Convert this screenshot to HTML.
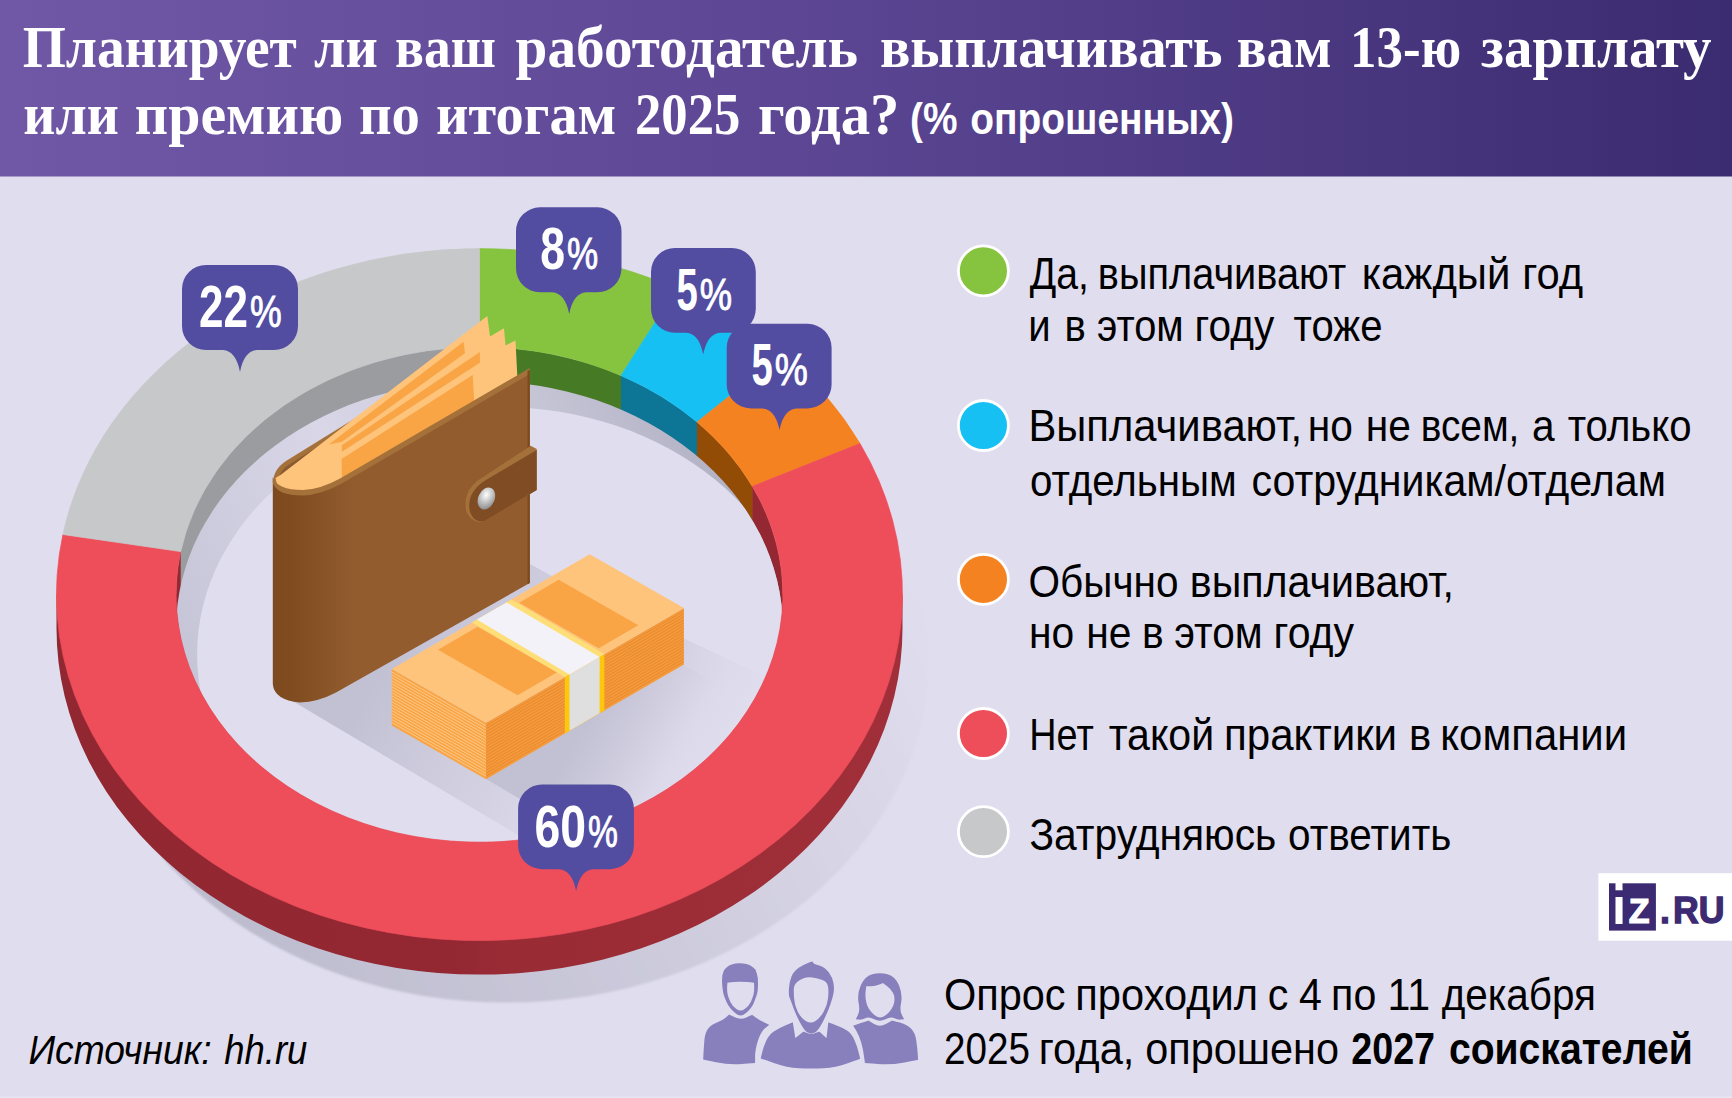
<!DOCTYPE html>
<html lang="ru"><head><meta charset="utf-8"><title>Инфографика</title>
<style>html,body{margin:0;padding:0;background:#e0ddee}svg{display:block}</style></head>
<body>
<svg width="1732" height="1098" viewBox="0 0 1732 1098">
<defs>
<linearGradient id="hdr" x1="0" x2="1" y1="0" y2="0"><stop offset="0" stop-color="#7058a6"/><stop offset="0.45" stop-color="#5d4795"/><stop offset="1" stop-color="#3b2b70"/></linearGradient>
<linearGradient id="wal" x1="0" x2="1" y1="0" y2="0"><stop offset="0" stop-color="#7d491e"/><stop offset="0.07" stop-color="#7f4b1f"/><stop offset="0.32" stop-color="#925c2f"/><stop offset="1" stop-color="#925c2f"/></linearGradient>
<linearGradient id="gsh" gradientUnits="userSpaceOnUse" x1="250" y1="980" x2="930" y2="620"><stop offset="0" stop-color="#bdbcce"/><stop offset="0.5" stop-color="#cdcbdc"/><stop offset="1" stop-color="#e0ddee"/></linearGradient>
<linearGradient id="wsh" gradientUnits="userSpaceOnUse" x1="400" y1="640" x2="660" y2="790"><stop offset="0" stop-color="#c2c1d3"/><stop offset="0.5" stop-color="#cdcbdc" stop-opacity="0.7"/><stop offset="1" stop-color="#dad8e8" stop-opacity="0"/></linearGradient>
<linearGradient id="msh" gradientUnits="userSpaceOnUse" x1="585" y1="722" x2="715" y2="797"><stop offset="0" stop-color="#c9c7d9"/><stop offset="1" stop-color="#dcd9ea" stop-opacity="0"/></linearGradient>
<linearGradient id="msh2" gradientUnits="userSpaceOnUse" x1="585" y1="722" x2="665" y2="768"><stop offset="0" stop-color="#c2c1d3"/><stop offset="1" stop-color="#cdcbdc" stop-opacity="0"/></linearGradient>
<linearGradient id="fsh" gradientUnits="userSpaceOnUse" x1="200" y1="720" x2="730" y2="460"><stop offset="0" stop-color="#c5c4d6"/><stop offset="0.4" stop-color="#d8d6e7"/><stop offset="0.75" stop-color="#c6c5d6"/><stop offset="1" stop-color="#b2b1c4"/></linearGradient>
<linearGradient id="owall" x1="0" x2="1" y1="0" y2="0"><stop offset="0" stop-color="#912731"/><stop offset="0.47" stop-color="#932832"/><stop offset="0.53" stop-color="#992b35"/><stop offset="1" stop-color="#a02f39"/></linearGradient>
<radialGradient id="btn" cx="0.4" cy="0.35" r="0.7"><stop offset="0" stop-color="#ffffff"/><stop offset="0.6" stop-color="#b9b9b9"/><stop offset="1" stop-color="#8a8a8a"/></radialGradient>
<clipPath id="inner"><ellipse cx="479.5" cy="594.6" rx="303.4" ry="247.6"/></clipPath>
<clipPath id="floor"><ellipse cx="479.5" cy="628.6" rx="303.4" ry="247.6"/></clipPath>
<filter id="blur8" x="-20%" y="-20%" width="140%" height="140%"><feGaussianBlur stdDeviation="7"/></filter>
<filter id="blur1" x="-5%" y="-5%" width="110%" height="110%"><feGaussianBlur stdDeviation="0.8"/></filter>
<filter id="blur4" x="-20%" y="-20%" width="140%" height="140%"><feGaussianBlur stdDeviation="3"/></filter>
</defs>
<rect width="1732" height="1098" fill="#e0ddee"/>
<rect width="1732" height="176.5" fill="url(#hdr)"/>
<rect y="1096.5" width="1732" height="1.5" fill="#e8e6f3"/>
<ellipse cx="506.5" cy="656.6" rx="423.0" ry="346.0" fill="url(#gsh)" filter="url(#blur1)"/>
<path d="M56.5 594.6V628.6A423.0 346.0 0 0 0 902.5 628.6V594.6Z" fill="url(#owall)"/>
<g clip-path="url(#inner)">
<rect x="174.1" y="345.0" width="7.1" height="499.2" fill="#932832"/>
<rect x="180.7" y="345.0" width="299.3" height="499.2" fill="#9b9c9f"/>
<rect x="479.5" y="345.0" width="142" height="499.2" fill="#477a24"/>
<rect x="621" y="345.0" width="76.5" height="499.2" fill="#0d7595"/>
<rect x="697" y="345.0" width="55.9" height="499.2" fill="#934c05"/>
<rect x="752.4" y="345.0" width="33" height="499.2" fill="#932832"/>
<ellipse cx="479.5" cy="628.6" rx="303.4" ry="247.6" fill="url(#fsh)"/>
<g clip-path="url(#floor)"><ellipse cx="500.5" cy="654.6" rx="303.4" ry="247.6" fill="#e0ddee"/>
<polygon points="284,696 303,702 530,583 530,564 800,712 570,866" fill="url(#wsh)"/>
<polygon points="486,779 683,665 683,638 810,698 650,868" fill="url(#msh)"/>
<polygon points="486,779 683,665 775,714 590,840" fill="url(#msh2)"/>
</g></g>
<path d="M479.5 248.6A423.0 346.0 0 0 1 676.8 288.5L621 375.6A303.4 247.6 0 0 0 479.5 347Z" fill="#86c440" stroke="#86c440" stroke-width="0.7" stroke-linejoin="round"/>
<path d="M676.8 288.5A423.0 346.0 0 0 1 782.8 353.4L697 422A303.4 247.6 0 0 0 621 375.6Z" fill="#17c0f2" stroke="#17c0f2" stroke-width="0.7" stroke-linejoin="round"/>
<path d="M782.8 353.4A423.0 346.0 0 0 1 860 443.5L752.4 486.4A303.4 247.6 0 0 0 697 422Z" fill="#f58220" stroke="#f58220" stroke-width="0.7" stroke-linejoin="round"/>
<path d="M860 443.5A423.0 346.0 0 1 1 62.9 534.5L180.7 551.6A303.4 247.6 0 1 0 752.4 486.4Z" fill="#ee4d5a" stroke="#ee4d5a" stroke-width="0.7" stroke-linejoin="round"/>
<path d="M62.9 534.5A423.0 346.0 0 0 1 479.5 248.6L479.5 347A303.4 247.6 0 0 0 180.7 551.6Z" fill="#c7c8ca" stroke="#c7c8ca" stroke-width="0.7" stroke-linejoin="round"/>
<path d="M273 486 Q272 470 286 461 L362 414 L366 424 L300 470Z" fill="#a5713a"/>
<path d="M279 480 Q279 470 290 464 L352 425 L330 450 L284 480Z" fill="#8a5a30"/>
<path d="M280.5 475 L487.3 316 L490 336.4 L504 328.2 L505.5 345.5 L515.5 340.4 L517.3 376 L341 480 Q318 492 303 493 Q277 493 275.5 478Z" fill="#fec47c"/>
<polygon points="328.7,444.4 463.6,341.7 465,353.3 341.9,441.8" fill="#f9a545"/>
<polygon points="341.9,445.3 479.9,351.9 479.9,362.8 341.9,451.7" fill="#f9a545"/>
<polygon points="341.6,459 472.7,374.9 474.2,401 341.9,478" fill="#f9a545"/>
<path d="M272.8 478 Q277 492.5 303 492.5 Q320 492 340 481 L529.8 370.5 L529.8 583 L336 692.5 Q318 702 300 702.5 Q274 700 272.8 684Z" fill="url(#wal)"/>
<path d="M272.8 477 Q277 490 303 490 Q320 489.5 340 478.5 L529.8 368 L529.8 374 L341 484 Q320 495 303 495.5 Q277 495.5 272.8 483Z" fill="#a5713a"/>
<polygon points="527.5,371 529.8,370 529.8,583 527.5,584.3" fill="#7d491e"/>
<path d="M530.7 445.7 L536.7 449 L536.7 490 L484 521.5 Q472 524 466.5 512 Q463 497 472 486 Q477 480 484 476.5Z" fill="#a5713a"/>
<path d="M536.7 450 L536.7 490 L484.5 521 Q474.5 523.5 470 512 Q467 499 475 489.5 Q479 484 486 480Z" fill="#7f4c24"/>
<ellipse cx="486.4" cy="498.5" rx="8.2" ry="11.4" transform="rotate(24 486.4 498.5)" fill="url(#btn)"/>
<polygon points="391.8,669 486,722.8 486,779.2 391.8,725.4" fill="#f9a545"/>
<polygon points="486,722.8 683.9,608 683.9,664.4 486,779.2" fill="#f49a3c"/>
<path d="M391.8 672L486 725.8" stroke="#fdc98a" stroke-width="1"/>
<path d="M486 725.8L683.9 611" stroke="#e88a2c" stroke-width="1"/>
<path d="M391.8 674.9L486 728.7" stroke="#fdc98a" stroke-width="1"/>
<path d="M486 728.7L683.9 613.9" stroke="#e88a2c" stroke-width="1"/>
<path d="M391.8 677.9L486 731.7" stroke="#fdc98a" stroke-width="1"/>
<path d="M486 731.7L683.9 616.9" stroke="#e88a2c" stroke-width="1"/>
<path d="M391.8 680.9L486 734.7" stroke="#fdc98a" stroke-width="1"/>
<path d="M486 734.7L683.9 619.9" stroke="#e88a2c" stroke-width="1"/>
<path d="M391.8 683.8L486 737.6" stroke="#fdc98a" stroke-width="1"/>
<path d="M486 737.6L683.9 622.8" stroke="#e88a2c" stroke-width="1"/>
<path d="M391.8 686.8L486 740.6" stroke="#fdc98a" stroke-width="1"/>
<path d="M486 740.6L683.9 625.8" stroke="#e88a2c" stroke-width="1"/>
<path d="M391.8 689.8L486 743.6" stroke="#fdc98a" stroke-width="1"/>
<path d="M486 743.6L683.9 628.8" stroke="#e88a2c" stroke-width="1"/>
<path d="M391.8 692.7L486 746.5" stroke="#fdc98a" stroke-width="1"/>
<path d="M486 746.5L683.9 631.7" stroke="#e88a2c" stroke-width="1"/>
<path d="M391.8 695.7L486 749.5" stroke="#fdc98a" stroke-width="1"/>
<path d="M486 749.5L683.9 634.7" stroke="#e88a2c" stroke-width="1"/>
<path d="M391.8 698.7L486 752.5" stroke="#fdc98a" stroke-width="1"/>
<path d="M486 752.5L683.9 637.7" stroke="#e88a2c" stroke-width="1"/>
<path d="M391.8 701.7L486 755.5" stroke="#fdc98a" stroke-width="1"/>
<path d="M486 755.5L683.9 640.7" stroke="#e88a2c" stroke-width="1"/>
<path d="M391.8 704.6L486 758.4" stroke="#fdc98a" stroke-width="1"/>
<path d="M486 758.4L683.9 643.6" stroke="#e88a2c" stroke-width="1"/>
<path d="M391.8 707.6L486 761.4" stroke="#fdc98a" stroke-width="1"/>
<path d="M486 761.4L683.9 646.6" stroke="#e88a2c" stroke-width="1"/>
<path d="M391.8 710.6L486 764.4" stroke="#fdc98a" stroke-width="1"/>
<path d="M486 764.4L683.9 649.6" stroke="#e88a2c" stroke-width="1"/>
<path d="M391.8 713.5L486 767.3" stroke="#fdc98a" stroke-width="1"/>
<path d="M486 767.3L683.9 652.5" stroke="#e88a2c" stroke-width="1"/>
<path d="M391.8 716.5L486 770.3" stroke="#fdc98a" stroke-width="1"/>
<path d="M486 770.3L683.9 655.5" stroke="#e88a2c" stroke-width="1"/>
<path d="M391.8 719.5L486 773.3" stroke="#fdc98a" stroke-width="1"/>
<path d="M486 773.3L683.9 658.5" stroke="#e88a2c" stroke-width="1"/>
<path d="M391.8 722.4L486 776.2" stroke="#fdc98a" stroke-width="1"/>
<path d="M486 776.2L683.9 661.4" stroke="#e88a2c" stroke-width="1"/>
<polygon points="564.8,677.1 604.3,654.1 604.3,710.5 564.8,733.5" fill="#fdc80c"/>
<polygon points="569.5,674.4 599.6,656.9 599.6,713.3 569.5,730.8" fill="#dfdfdf"/>
<polygon points="391.8,669 589.7,554.2 683.9,608 486,722.8" fill="#fec47c"/>
<polygon points="438,649.8 477.6,626.8 557.2,672.3 517.6,695.3" fill="#f9a545"/>
<polygon points="519.1,602.7 558.7,579.8 638.3,625.2 598.7,648.2" fill="#f9a545"/>
<polygon points="471.9,622.5 511.5,599.5 604.3,654.1 564.8,677.1" fill="#fede77"/>
<polygon points="476.9,619.6 506.6,602.4 599.6,656.9 569.5,674.4" fill="#f3f2f9"/>
<path d="M206 265H274A24 24 0 0 1 298 289V326A24 24 0 0 1 274 350H257Q244 351 240 372Q236 351 223 350H206A24 24 0 0 1 182 326V289A24 24 0 0 1 206 265Z" fill="#524da0"/>
<text y="327" font-family="'Liberation Sans',sans-serif" fill="#fff"><tspan x="199" font-weight="700" font-size="59" textLength="49" lengthAdjust="spacingAndGlyphs">22</tspan><tspan x="250" font-size="45" stroke="#fff" stroke-width="0.9" textLength="31.7" lengthAdjust="spacingAndGlyphs">%</tspan></text>
<path d="M540 207.3H597.5A24 24 0 0 1 621.5 231.3V268.3A24 24 0 0 1 597.5 292.3H586.2Q573.2 293.3 569.2 314Q565.2 293.3 552.2 292.3H540A24 24 0 0 1 516 268.3V231.3A24 24 0 0 1 540 207.3Z" fill="#524da0"/>
<text y="269.3" font-family="'Liberation Sans',sans-serif" fill="#fff"><tspan x="540.3" font-weight="700" font-size="59" textLength="24.8" lengthAdjust="spacingAndGlyphs">8</tspan><tspan x="567.1" font-size="45" stroke="#fff" stroke-width="0.9" textLength="31.2" lengthAdjust="spacingAndGlyphs">%</tspan></text>
<path d="M675 248H731.8A24 24 0 0 1 755.8 272V308.8A24 24 0 0 1 731.8 332.8H720.2Q707.2 333.8 703.2 354.6Q699.2 333.8 686.2 332.8H675A24 24 0 0 1 651 308.8V272A24 24 0 0 1 675 248Z" fill="#524da0"/>
<text y="310.3" font-family="'Liberation Sans',sans-serif" fill="#fff"><tspan x="676.5" font-weight="700" font-size="59" textLength="21.3" lengthAdjust="spacingAndGlyphs">5</tspan><tspan x="699.8" font-size="45" stroke="#fff" stroke-width="0.9" textLength="32.3" lengthAdjust="spacingAndGlyphs">%</tspan></text>
<path d="M750.7 323.8H807.6A24 24 0 0 1 831.6 347.8V384.4A24 24 0 0 1 807.6 408.4H796.5Q783.5 409.4 779.5 430Q775.5 409.4 762.5 408.4H750.7A24 24 0 0 1 726.7 384.4V347.8A24 24 0 0 1 750.7 323.8Z" fill="#524da0"/>
<text y="385.4" font-family="'Liberation Sans',sans-serif" fill="#fff"><tspan x="751.5" font-weight="700" font-size="59" textLength="21.3" lengthAdjust="spacingAndGlyphs">5</tspan><tspan x="774.8" font-size="45" stroke="#fff" stroke-width="0.9" textLength="33.1" lengthAdjust="spacingAndGlyphs">%</tspan></text>
<path d="M542.1 784.4H609.9A24 24 0 0 1 633.9 808.4V845.2A24 24 0 0 1 609.9 869.2H593.1Q580.1 870.2 576.1 891Q572.1 870.2 559.1 869.2H542.1A24 24 0 0 1 518.1 845.2V808.4A24 24 0 0 1 542.1 784.4Z" fill="#524da0"/>
<text y="846.5" font-family="'Liberation Sans',sans-serif" fill="#fff"><tspan x="534.4" font-weight="700" font-size="59" textLength="51.6" lengthAdjust="spacingAndGlyphs">60</tspan><tspan x="588" font-size="45" stroke="#fff" stroke-width="0.9" textLength="29.9" lengthAdjust="spacingAndGlyphs">%</tspan></text>
<text y="66.8" font-family="'Liberation Serif',serif" font-size="59" fill="#fff" font-weight="700" lengthAdjust="spacingAndGlyphs"><tspan x="22.7" textLength="274.1" lengthAdjust="spacingAndGlyphs">Планирует</tspan> <tspan x="314" textLength="63.9" lengthAdjust="spacingAndGlyphs">ли</tspan> <tspan x="395.1" textLength="100.9" lengthAdjust="spacingAndGlyphs">ваш</tspan> <tspan x="515.6" textLength="342.4" lengthAdjust="spacingAndGlyphs">работодатель</tspan> <tspan x="880" textLength="342.5" lengthAdjust="spacingAndGlyphs">выплачивать</tspan> <tspan x="1236.7" textLength="94.9" lengthAdjust="spacingAndGlyphs">вам</tspan> <tspan x="1350.1" textLength="111.1" lengthAdjust="spacingAndGlyphs">13-ю</tspan> <tspan x="1481.1" textLength="230.5" lengthAdjust="spacingAndGlyphs">зарплату</tspan></text>
<text y="133.5" font-family="'Liberation Serif',serif" font-size="59" fill="#fff" font-weight="700" lengthAdjust="spacingAndGlyphs"><tspan x="23.3" textLength="95.5" lengthAdjust="spacingAndGlyphs">или</tspan> <tspan x="134.8" textLength="208.4" lengthAdjust="spacingAndGlyphs">премию</tspan> <tspan x="358.9" textLength="61.1" lengthAdjust="spacingAndGlyphs">по</tspan> <tspan x="436.1" textLength="180" lengthAdjust="spacingAndGlyphs">итогам</tspan> <tspan x="635" textLength="105.3" lengthAdjust="spacingAndGlyphs">2025</tspan> <tspan x="758.1" textLength="141.4" lengthAdjust="spacingAndGlyphs">года?</tspan></text>
<text y="134.2" font-family="'Liberation Sans',sans-serif" font-size="44.5" fill="#fff" font-weight="700" lengthAdjust="spacingAndGlyphs"><tspan x="910" textLength="47.5" lengthAdjust="spacingAndGlyphs">(%</tspan> <tspan x="970.3" textLength="263.6" lengthAdjust="spacingAndGlyphs">опрошенных)</tspan></text>
<text y="288.6" font-family="'Liberation Sans',sans-serif" font-size="45" fill="#000" lengthAdjust="spacingAndGlyphs"><tspan x="1029.7" textLength="59.1" lengthAdjust="spacingAndGlyphs">Да,</tspan> <tspan x="1097.8" textLength="248.4" lengthAdjust="spacingAndGlyphs">выплачивают</tspan> <tspan x="1361.8" textLength="148.6" lengthAdjust="spacingAndGlyphs">каждый</tspan> <tspan x="1522.2" textLength="61" lengthAdjust="spacingAndGlyphs">год</tspan></text>
<text y="340.8" font-family="'Liberation Sans',sans-serif" font-size="45" fill="#000" lengthAdjust="spacingAndGlyphs"><tspan x="1028.3" textLength="22.4" lengthAdjust="spacingAndGlyphs">и</tspan> <tspan x="1064.6" textLength="21.3" lengthAdjust="spacingAndGlyphs">в</tspan> <tspan x="1097" textLength="86.7" lengthAdjust="spacingAndGlyphs">этом</tspan> <tspan x="1194.6" textLength="79.6" lengthAdjust="spacingAndGlyphs">году</tspan> <tspan x="1293.6" textLength="88.9" lengthAdjust="spacingAndGlyphs">тоже</tspan></text>
<text y="441.4" font-family="'Liberation Sans',sans-serif" font-size="45" fill="#000" lengthAdjust="spacingAndGlyphs"><tspan x="1028.5" textLength="273.6" lengthAdjust="spacingAndGlyphs">Выплачивают,</tspan> <tspan x="1307.8" textLength="45.1" lengthAdjust="spacingAndGlyphs">но</tspan> <tspan x="1365.8" textLength="45.1" lengthAdjust="spacingAndGlyphs">не</tspan> <tspan x="1420.8" textLength="98.6" lengthAdjust="spacingAndGlyphs">всем,</tspan> <tspan x="1532" textLength="22.6" lengthAdjust="spacingAndGlyphs">а</tspan> <tspan x="1567.7" textLength="123.8" lengthAdjust="spacingAndGlyphs">только</tspan></text>
<text y="495.6" font-family="'Liberation Sans',sans-serif" font-size="45" fill="#000" lengthAdjust="spacingAndGlyphs"><tspan x="1030.1" textLength="206.7" lengthAdjust="spacingAndGlyphs">отдельным</tspan> <tspan x="1251.5" textLength="414.4" lengthAdjust="spacingAndGlyphs">сотрудникам/отделам</tspan></text>
<text y="596.5" font-family="'Liberation Sans',sans-serif" font-size="45" fill="#000" lengthAdjust="spacingAndGlyphs"><tspan x="1028.6" textLength="149.9" lengthAdjust="spacingAndGlyphs">Обычно</tspan> <tspan x="1189.8" textLength="264.2" lengthAdjust="spacingAndGlyphs">выплачивают,</tspan></text>
<text y="648.3" font-family="'Liberation Sans',sans-serif" font-size="45" fill="#000" lengthAdjust="spacingAndGlyphs"><tspan x="1028.9" textLength="45.2" lengthAdjust="spacingAndGlyphs">но</tspan> <tspan x="1086.2" textLength="45.2" lengthAdjust="spacingAndGlyphs">не</tspan> <tspan x="1142" textLength="21.7" lengthAdjust="spacingAndGlyphs">в</tspan> <tspan x="1174.3" textLength="88.3" lengthAdjust="spacingAndGlyphs">этом</tspan> <tspan x="1273.6" textLength="80.5" lengthAdjust="spacingAndGlyphs">году</tspan></text>
<text y="749.5" font-family="'Liberation Sans',sans-serif" font-size="45" fill="#000" lengthAdjust="spacingAndGlyphs"><tspan x="1029.3" textLength="64.4" lengthAdjust="spacingAndGlyphs">Нет</tspan> <tspan x="1108.7" textLength="105.5" lengthAdjust="spacingAndGlyphs">такой</tspan> <tspan x="1224.1" textLength="173" lengthAdjust="spacingAndGlyphs">практики</tspan> <tspan x="1409" textLength="22.2" lengthAdjust="spacingAndGlyphs">в</tspan> <tspan x="1440.3" textLength="186.9" lengthAdjust="spacingAndGlyphs">компании</tspan></text>
<text y="849.5" font-family="'Liberation Sans',sans-serif" font-size="45" fill="#000" lengthAdjust="spacingAndGlyphs"><tspan x="1029.4" textLength="246.9" lengthAdjust="spacingAndGlyphs">Затрудняюсь</tspan> <tspan x="1288.1" textLength="163.2" lengthAdjust="spacingAndGlyphs">ответить</tspan></text>
<text y="1009.7" font-family="'Liberation Sans',sans-serif" font-size="44.5" fill="#000" lengthAdjust="spacingAndGlyphs"><tspan x="943.9" textLength="121.7" lengthAdjust="spacingAndGlyphs">Опрос</tspan> <tspan x="1075.3" textLength="182.7" lengthAdjust="spacingAndGlyphs">проходил</tspan> <tspan x="1267.8" textLength="20.6" lengthAdjust="spacingAndGlyphs">с</tspan> <tspan x="1298.9" textLength="22.9" lengthAdjust="spacingAndGlyphs">4</tspan> <tspan x="1331.1" textLength="45.2" lengthAdjust="spacingAndGlyphs">по</tspan> <tspan x="1387.4" textLength="42.7" lengthAdjust="spacingAndGlyphs">11</tspan> <tspan x="1441.7" textLength="154.3" lengthAdjust="spacingAndGlyphs">декабря</tspan></text>
<text y="1063.9" font-family="'Liberation Sans',sans-serif" font-size="44.5" fill="#000" lengthAdjust="spacingAndGlyphs"><tspan x="944.1" textLength="86" lengthAdjust="spacingAndGlyphs">2025</tspan> <tspan x="1038.8" textLength="95.6" lengthAdjust="spacingAndGlyphs">года,</tspan> <tspan x="1145.3" textLength="193.7" lengthAdjust="spacingAndGlyphs">опрошено</tspan></text>
<text y="1063.9" font-family="'Liberation Sans',sans-serif" font-size="44.5" fill="#000" font-weight="700" lengthAdjust="spacingAndGlyphs"><tspan x="1351.2" textLength="83.9" lengthAdjust="spacingAndGlyphs">2027</tspan> <tspan x="1448.9" textLength="243.9" lengthAdjust="spacingAndGlyphs">соискателей</tspan></text>
<text y="1063.9" font-family="'Liberation Sans',sans-serif" font-size="40.5" fill="#000" font-style="italic" lengthAdjust="spacingAndGlyphs"><tspan x="28.5" textLength="183.2" lengthAdjust="spacingAndGlyphs">Источник:</tspan> <tspan x="224.3" textLength="83.1" lengthAdjust="spacingAndGlyphs">hh.ru</tspan></text>
<circle cx="983.4" cy="270.9" r="25" fill="#86c440" stroke="#fff" stroke-width="2.8"/>
<circle cx="983.4" cy="425.5" r="25" fill="#17c0f2" stroke="#fff" stroke-width="2.8"/>
<circle cx="983.4" cy="579.4" r="25" fill="#f58220" stroke="#fff" stroke-width="2.8"/>
<circle cx="983.4" cy="733.5" r="25" fill="#ee4d5a" stroke="#fff" stroke-width="2.8"/>
<circle cx="983.4" cy="831.7" r="25" fill="#c7c8ca" stroke="#fff" stroke-width="2.8"/>
<rect x="1598.4" y="873.2" width="134" height="67.5" fill="#fff"/>
<rect x="1609" y="883.3" width="46.9" height="47.3" fill="#3c2a72"/>
<text x="1611.9" y="923.6" font-family="'Liberation Sans',sans-serif" font-size="50.7" fill="#fff" font-weight="700">i</text>
<rect x="1614" y="890.3" width="10" height="4.6" fill="#3c2a72"/>
<rect x="1615.5" y="883" width="7" height="5" fill="#fff"/>
<text x="1628.8" y="923.1" font-family="'Liberation Sans',sans-serif" font-size="35.5" fill="#fff" font-weight="700" textLength="20.8" lengthAdjust="spacingAndGlyphs" stroke="#fff" stroke-width="1.2">Z</text>
<text x="1660" y="923.2" font-family="'Liberation Sans',sans-serif" font-size="36.8" fill="#3c2a72" font-weight="700" textLength="64.5" lengthAdjust="spacingAndGlyphs" stroke="#3c2a72" stroke-width="1.3">.<tspan dx="3.2">RU</tspan></text>
<g fill="#8780bd">
<path d="M734.8 1017.3Q729.1 1014.6 729.1 1014.6Q729.1 1014.6 726.2 1017.3Q723.3 1020 717 1022.4Q710.8 1024.8 707.9 1029Q705 1033.1 704.4 1040.1Q703.9 1047 703.5 1053.2Q703.2 1059.5 703.2 1059.5Q703.2 1059.5 716 1062.2Q728.8 1065 742 1064Q755.1 1062.9 755.1 1062.9Q755.1 1062.9 755.1 1056.3Q755.1 1049.8 757.9 1040.8Q760.7 1031.8 765 1028.3Q769.3 1024.8 769.3 1024.8Q769.3 1024.8 764.3 1022.4Q759.3 1020 755.7 1017.4Q752.1 1014.8 752.1 1014.8Q752.1 1014.8 746.3 1017.4Q740.6 1020 734.8 1017.3Z"/>
<path d="M723.7 994.7Q722.7 991.6 722.1 983.3Q721.6 974.9 723.9 970.6Q726.3 966.4 731.7 964.5Q737.1 962.7 743.3 963.6Q749.6 964.4 752.5 966.9Q755.4 969.4 755.4 969.4Q755.4 969.4 756.8 973.6Q758.2 977.7 758 984.6Q757.9 991.6 756.8 994.7Q755.7 997.8 753.9 1002.7Q752.1 1007.5 746.3 1012.8Q740.6 1018.2 734.8 1012.8Q729.1 1007.5 726.9 1002.7Q724.6 997.8 723.7 994.7Z"/>
<path d="M860.8 1023Q868.5 1020.4 868.5 1020.4Q868.5 1020.4 874.1 1024Q879.8 1027.6 885.9 1024Q892 1020.4 892 1020.4Q892 1020.4 899.8 1022.6Q907.5 1024.8 911.4 1029Q915.2 1033.1 916.2 1040.1Q917.2 1047 917.7 1053.4Q918.1 1059.7 918.1 1059.7Q918.1 1059.7 904.5 1062.4Q890.9 1065 877.9 1064Q864.9 1062.9 864.9 1062.9Q864.9 1062.9 864 1056.3Q863.2 1049.8 861.3 1042.8Q859.3 1035.9 856.3 1030.8Q853.2 1025.7 853.2 1025.7Q853.2 1025.7 860.8 1023Z"/>
<path d="M887.6 974.2Q879.8 972.2 872.2 974.2Q864.6 976.3 860.8 985.3Q857 994.3 858.6 1002.7Q860.2 1011 857.9 1015.1Q855.7 1019.3 855.7 1019.3Q855.7 1019.3 858.8 1019.6Q861.8 1020 865.3 1018.2Q868.7 1016.5 874.3 1019.3Q879.8 1022.1 885.4 1019.3Q890.9 1016.5 894.4 1018.2Q897.8 1020 901 1019.6Q904.2 1019.3 904.2 1019.3Q904.2 1019.3 901.9 1015.1Q899.5 1011 901.1 1002.7Q902.7 994.3 899 985.3Q895.3 976.3 887.6 974.2Z"/>
<path d="M794.1 1030.2Q792.8 1022.3 792.8 1022.3Q792.8 1022.3 785.7 1025.3Q778.7 1028.3 773.8 1031.4Q769 1034.5 766.2 1040.8Q763.4 1047 762.1 1052.7Q760.7 1058.4 760.7 1058.4Q760.7 1058.4 773.8 1063.1Q787 1067.8 799.1 1068.2Q811.2 1068.6 823.4 1068.2Q835.5 1067.8 847.8 1063.3Q860.2 1058.8 860.2 1058.8Q860.2 1058.8 858.6 1052.2Q857 1045.6 854.2 1039.4Q851.4 1033.1 846.9 1030.4Q842.4 1027.6 835.4 1025Q828.3 1022.3 828.3 1022.3Q828.3 1022.3 827.4 1030.2Q826.5 1038.1 826.5 1038.1Q826.5 1038.1 822.8 1034.8Q819.1 1031.5 819.1 1031.5Q819.1 1031.5 815.2 1033.1Q811.2 1034.8 807.4 1033.1Q803.6 1031.5 803.6 1031.5Q803.6 1031.5 799.5 1034.8Q795.3 1038.1 795.3 1038.1Q795.3 1038.1 794.1 1030.2Z" stroke="#e0ddee" stroke-width="4.5" paint-order="stroke"/>
<path d="M789.3 997.1Q788.7 995.7 788.9 988.8Q789.2 981.9 791.6 976.3Q793.9 970.8 799.5 967.3Q805 963.9 808.6 962.7Q812.2 961.6 812.2 961.6Q812.2 961.6 813.5 962.9Q814.7 964.1 814.7 964.1Q814.7 964.1 819.9 965.7Q825.1 967.3 828.9 972.5Q832.7 977.7 833.5 983.3Q834.4 988.8 833.5 993.3Q832.7 997.8 830.6 1003.7Q828.6 1009.6 825.8 1015.8Q823 1022.1 819.9 1026.9Q816.8 1031.8 814 1032.8Q811.2 1033.8 811.2 1033.8Q811.2 1033.8 808.5 1032.8Q805.7 1031.8 802.6 1026.9Q799.5 1022.1 796.7 1015.8Q793.9 1009.6 792 1004Q790 998.5 789.3 997.1Z"/>
</g>
<g fill="#e0ddee">
<path d="M727.1 987.1Q727.4 982.7 727.4 982.7Q727.4 982.7 734 982Q740.6 981.3 747.3 982Q754 982.7 754 982.7Q754 982.7 754.2 987.1Q754.3 991.6 753.5 994.7Q752.6 997.8 750.8 1002Q748.9 1006.1 744.7 1009.1Q740.6 1012.1 736.4 1009.1Q732.3 1006.1 730.4 1002Q728.5 997.8 727.7 994.7Q726.9 991.6 727.1 987.1Z"/>
<path d="M794.1 998.5Q793.6 991.6 793.9 988.1Q794.2 984.6 796.8 982.2Q799.5 979.8 803.6 978.2Q807.8 976.6 812.6 977.5Q817.5 978.4 822.3 980Q827.2 981.6 828 986.6Q828.8 991.6 828 998.5Q827.2 1005.4 823.7 1011.7Q820.2 1017.9 815.5 1021Q810.8 1024.1 805.8 1021Q800.8 1017.9 797.7 1011.7Q794.6 1005.4 794.1 998.5Z"/>
<path d="M865.6 991.7Q866.3 986.3 866.3 986.3Q866.3 986.3 871 986.3Q875.7 986.3 879.3 984.6Q882.9 983 882.9 983Q882.9 983 886.9 985.9Q890.9 988.8 893.1 993Q895.3 997.1 894 1003.3Q892.6 1009.6 886.3 1014.8Q880.1 1020 874.1 1014.8Q868.1 1009.6 866.5 1003.3Q864.9 997.1 865.6 991.7Z"/>
</g>
</svg>
</body></html>
